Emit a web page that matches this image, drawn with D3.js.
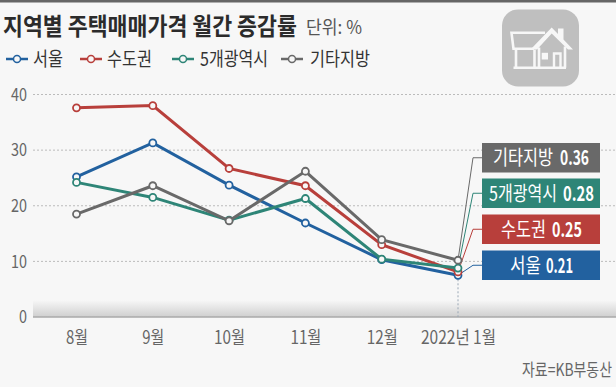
<!DOCTYPE html>
<html>
<head>
<meta charset="UTF-8">
<style>
html, body { margin: 0; padding: 0; background: #f7f7f7; }
svg { display: block; }
text { font-family: "Noto Sans CJK KR", sans-serif; }
.axis path { display: none; }
.axis line { display: none; }
.axis text { fill: #666; font-size: 18px; }
.grid line { stroke: #bbb; stroke-dasharray: 2 2; }
.line { fill: none; stroke-width: 3px; }
</style>
</head>
<body>
<svg width="616" height="387"></svg>
<script src="https://d3js.org/d3.v7.min.js"></script>
<script>
// data
var months = ["8월", "9월", "10월", "11월", "12월", "2022년 1월"];
var seriesNames = ["서울", "수도권", "5개광역시", "기타지방"];
var seoul = [25.2, 31.3, 23.7, 16.9, 10.3, 7.5];
var capital = [37.6, 38.0, 26.7, 23.6, 13.0, 8.1];
var metro = [24.2, 21.5, 17.4, 21.3, 10.4, 8.8];
var others = [18.5, 23.6, 17.3, 26.2, 13.9, 10.2];
var latest = ["0.21", "0.25", "0.28", "0.36"];
var yTicks = [0, 10, 20, 30, 40];
var colors = ["#22619f", "#b83f3b", "#2e8577", "#696969"];

var svg = d3.select("svg"),
    margin = {top: 94.5, right: 0, bottom: 70, left: 33},
    width = 616 - margin.left - margin.right,
    height = 387 - margin.top - margin.bottom,
    g = svg.append("g").attr("transform", "translate(" + margin.left + "," + margin.top + ")");

var x = d3.scalePoint().domain(months).range([43.5, 425]),
    y = d3.scaleLinear().domain([0, 40]).range([height, 0]);

var series = [seoul, capital, metro, others].map(function(values, i) {
  return {name: seriesNames[i], values: values, color: colors[i], latest: latest[i]};
});

// squeezes text sideways to the narrow look of the original type
function fit(sel, w) {
  var node = sel.node(),
      tx = +sel.attr("x") || 0,
      ty = +sel.attr("y") || 0,
      sx = w / node.getComputedTextLength();
  return sel.attr("transform", "translate(" + tx + "," + ty + ") scale(" + sx + ",1) translate(" + (-tx) + "," + (-ty) + ")");
}

// top rule
svg.append("rect").attr("width", 616).attr("height", 2.5).attr("fill", "#666");

// title
fit(svg.append("text").attr("x", 3).attr("y", 35)
    .attr("font-size", 24).attr("font-weight", 700).attr("fill", "#2b2b2b")
    .text("지역별 주택매매가격 월간 증감률"), 294);
fit(svg.append("text").attr("x", 306).attr("y", 34)
    .attr("font-size", 18).attr("fill", "#555")
    .text("단위: %"), 56);

// icon
var paper = "#f7f7f7";
var icon = svg.append("g").attr("transform", "translate(502,9.5)");
icon.append("rect").attr("width", 77).attr("height", 77).attr("rx", 16).attr("fill", "#bfbfbf");
icon.append("path")
    .attr("fill", "none").attr("stroke", paper).attr("stroke-width", 2.6)
    .attr("d", "M43 23.3H9.5L11.5 39.3H32M14 40V58.3M32.5 40V58.3M11.5 58.3H64M37 38V58.3M63 37V58.3");
icon.append("path")
    .attr("fill", paper)
    .attr("d", "M29 39.5L49.7 18L56 24.5V19H61.5V30L71 40H66L49.7 24L35 40Z");
icon.append("path").attr("fill", paper).attr("d", "M39.7 43.3H46V50H39.7Z");
icon.append("path").attr("fill", "none").attr("stroke", paper).attr("stroke-width", 2.4).attr("d", "M52 58V44H58.5V58");

// legend
var legendX = [6, 80, 172, 281], legendW = [30, 45, 68, 60];
var legend = svg.selectAll(".legend").data(series).enter().append("g")
    .attr("class", "legend")
    .attr("transform", function(d, i) { return "translate(" + legendX[i] + ",59)"; });
legend.append("line").attr("x2", 22).attr("stroke", function(d) { return d.color; }).attr("stroke-width", 2.5);
legend.append("circle").attr("cx", 11).attr("r", 3.5)
    .attr("fill", paper).attr("stroke", function(d) { return d.color; }).attr("stroke-width", 1.5);
legend.append("text").attr("x", function(d, i) { return i == 3 ? 29 : (i == 2 ? 28 : 27); }).attr("y", 7).attr("font-size", 19).attr("fill", "#333")
    .text(function(d) { return d.name; })
    .each(function(d, i) { fit(d3.select(this), legendW[i]); });

// grid
var defs = svg.append("defs");
var grad = defs.append("linearGradient").attr("id", "base").attr("x1", 0).attr("x2", 0).attr("y1", 0).attr("y2", 1);
grad.append("stop").attr("offset", 0).attr("stop-color", paper);
grad.append("stop").attr("offset", 1).attr("stop-color", "#cfcfcf");

g.append("rect").attr("y", y(3)).attr("width", width).attr("height", y(0) - y(3)).attr("fill", "url(#base)");
g.append("line").attr("y1", y(0)).attr("y2", y(0)).attr("x2", width).attr("stroke", "#aaa").attr("stroke-width", 1.5);

g.append("g").attr("class", "grid")
  .selectAll("line").data(yTicks.filter(function(d) { return d > 0; })).enter().append("line")
    .attr("x2", width)
    .attr("y1", function(d) { return y(d); })
    .attr("y2", function(d) { return y(d); });

// axes
g.append("g").attr("class", "axis axis--y")
    .call(d3.axisLeft(y).tickValues(yTicks).tickSize(0).tickPadding(6));
g.append("g").attr("class", "axis axis--x")
    .attr("transform", "translate(0," + height + ")")
    .call(d3.axisBottom(x).tickSize(0).tickPadding(14));
g.selectAll(".axis--x text").each(function(d) {
  fit(d3.select(this), d.length > 4 ? 75 : (d.length > 2 ? 31 : 22));
});
g.selectAll(".axis--y text").each(function(d) {
  var t = d3.select(this);
  fit(t, d > 0 ? 16 : 8);
});

var last = months[months.length - 1];

// drop line for the last month
g.append("line")
    .attr("x1", x(last)).attr("x2", x(last))
    .attr("y1", y(seoul[5])).attr("y2", y(0))
    .attr("stroke", "#9aa7b5").attr("stroke-dasharray", "2 2");

// series lines
var line = d3.line()
    .x(function(d, i) { return x(months[i]); })
    .y(function(d) { return y(d); });

var s = g.selectAll(".series").data(series).enter().append("g").attr("class", "series");
s.append("path").attr("class", "line")
    .attr("d", function(d) { return line(d.values); })
    .attr("stroke", function(d) { return d.color; });

// value boxes, seoul at the bottom
var boxTop = [156, 120, 84, 48.5];
var boxW = 118, boxH = 29.5, boxX = 449;
// name and value are separate texts: start and width of each inside the box
var nameX = [28, 19, 7, 11], nameW = [31, 45, 68, 60];
var valueX = [64, 70, 81, 78], valueW = [27, 30, 31, 29];

s.append("polyline")
    .attr("fill", "none").attr("stroke-width", 1)
    .attr("stroke", function(d) { return d.color; })
    .attr("points", function(d, i) {
      var py = boxTop[i] + boxH / 2;
      return x(last) + "," + y(d.values[5]) + " " + (x(last) + 15) + "," + py + " " + boxX + "," + py;
    });

s.selectAll("circle").data(function(d) {
    return d.values.map(function(v, i) { return {v: v, month: months[i], color: d.color}; });
  }).enter().append("circle")
    .attr("cx", function(d) { return x(d.month); })
    .attr("cy", function(d) { return y(d.v); })
    .attr("r", 3.5)
    .attr("fill", paper)
    .attr("stroke", function(d) { return d.color; })
    .attr("stroke-width", 1.8);

var box = g.selectAll(".box").data(series).enter().append("g")
    .attr("class", "box")
    .attr("transform", function(d, i) { return "translate(" + boxX + "," + boxTop[i] + ")"; });
box.append("rect").attr("width", boxW).attr("height", boxH).attr("fill", function(d) { return d.color; });
box.append("text").attr("x", function(d, i) { return nameX[i]; }).attr("y", 22)
    .attr("font-size", 20).attr("fill", "#fff")
    .text(function(d) { return d.name; })
    .each(function(d, i) { fit(d3.select(this), nameW[i]); });
box.append("text").attr("x", function(d, i) { return valueX[i]; }).attr("y", 22)
    .attr("font-size", 20).attr("font-weight", 700).attr("fill", "#fff")
    .text(function(d) { return d.latest; })
    .each(function(d, i) { fit(d3.select(this), valueW[i]); });

// source
fit(svg.append("text").attr("x", 612).attr("y", 376).attr("text-anchor", "end")
    .attr("font-size", 17).attr("fill", "#666")
    .text("자료=KB부동산"), 90);
</script>
</body>
</html>
